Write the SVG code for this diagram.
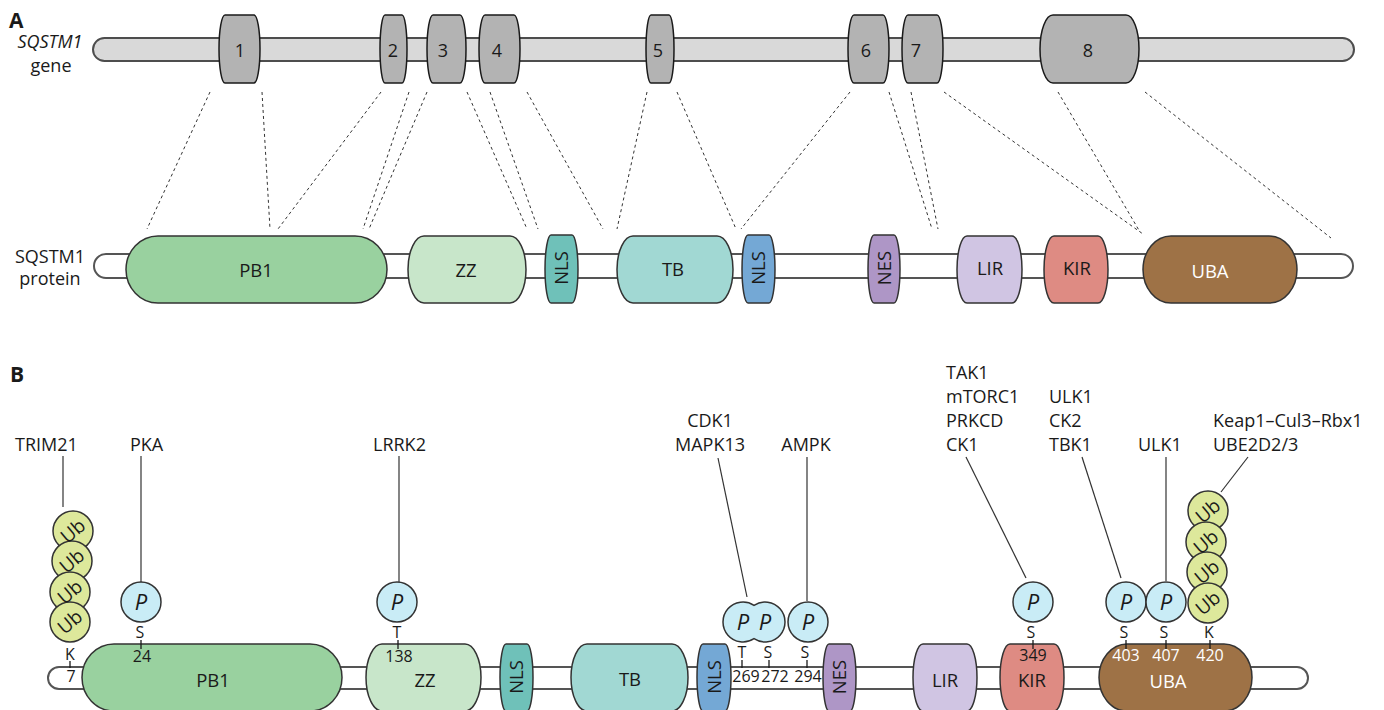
<svg xmlns="http://www.w3.org/2000/svg" width="1384" height="710" viewBox="0 0 1384 710">
  <style>
    text { font-family: "Open Sans", "Noto Sans", sans-serif; fill: #1a1a1a; }
    .lbl { font-size: 18px; }
    .num { font-size: 18px; text-anchor: middle; }
    .head { font-size: 21px; font-weight: bold; }
    .dl { font-size: 18.5px; text-anchor: middle; }
    .res { font-size: 16px; text-anchor: middle; }
    .wht { fill: #ffffff; }
    .pt { font-size: 22px; font-style: italic; text-anchor: middle; }
    .ubt { font-size: 19px; text-anchor: middle; }
    .gbar { fill: #d9d9d9; stroke: #4d4d4d; stroke-width: 2; }
    .pbar { fill: #ffffff; stroke: #555555; stroke-width: 2; }
    .exon { fill: #b3b3b3; stroke: #1a1a1a; stroke-width: 1.5; }
    .dom { stroke: #333333; stroke-width: 1.5; }
    .dash { stroke: #333333; stroke-width: 1; stroke-dasharray: 3 3; fill: none; }
    .lead { stroke: #333333; stroke-width: 1.2; fill: none; }
    .tick { stroke: #1a1a1a; stroke-width: 1.3; }
    .p { fill: #c9ecf6; stroke: #333333; stroke-width: 1.5; }
    .ub { fill: #dde89b; stroke: #333333; stroke-width: 1.5; }
    .pb1 { fill: #99d19f; } .zz { fill: #c8e6ca; } .nls1 { fill: #6fc1b9; }
    .tb { fill: #a1d8d3; } .nls2 { fill: #74a8d5; } .nes { fill: #ae96c6; }
    .lir { fill: #d0c5e3; } .kir { fill: #de8b83; } .uba { fill: #9e7246; }
  </style>

  <!-- ===== Panel A: gene ===== -->
  <text class="head" x="9" y="28">A</text>
  <text class="lbl" x="50" y="48" text-anchor="middle" font-style="italic">SQSTM1</text>
  <text class="lbl" x="51" y="72" text-anchor="middle">gene</text>

  <g id="gene">
    <rect class="gbar" x="93" y="38" width="1261" height="23" rx="11.5"/>
  </g>

  <g id="exon1"><path class="exon" d="M225,15 H254 C257.3,15 260,30.2 260,49 C260,67.8 257.3,83 254,83 H225 C221.7,83 219,67.8 219,49 C219,30.2 221.7,15 225,15Z"/><text class="num" x="240" y="57">1</text></g>
  <g id="exon2"><path class="exon" d="M385,15 H402 C404.8,15 407,30.2 407,49 C407,67.8 404.8,83 402,83 H385 C382.2,83 380,67.8 380,49 C380,30.2 382.2,15 385,15Z"/><text class="num" x="393" y="57">2</text></g>
  <g id="exon3"><path class="exon" d="M433,15 H460 C463.3,15 466,30.2 466,49 C466,67.8 463.3,83 460,83 H433 C429.7,83 427,67.8 427,49 C427,30.2 429.7,15 433,15Z"/><text class="num" x="443" y="57">3</text></g>
  <g id="exon4"><path class="exon" d="M485,15 H514 C517.3,15 520,30.2 520,49 C520,67.8 517.3,83 514,83 H485 C481.7,83 479,67.8 479,49 C479,30.2 481.7,15 485,15Z"/><text class="num" x="497" y="57">4</text></g>
  <g id="exon5"><path class="exon" d="M651,15 H669 C671.8,15 674,30.2 674,49 C674,67.8 671.8,83 669,83 H651 C648.2,83 646,67.8 646,49 C646,30.2 648.2,15 651,15Z"/><text class="num" x="658" y="57">5</text></g>
  <g id="exon6"><path class="exon" d="M854,15 H883 C886.3,15 889,30.2 889,49 C889,67.8 886.3,83 883,83 H854 C850.7,83 848,67.8 848,49 C848,30.2 850.7,15 854,15Z"/><text class="num" x="866" y="57">6</text></g>
  <g id="exon7"><path class="exon" d="M908,15 H937 C940.3,15 943,30.2 943,49 C943,67.8 940.3,83 937,83 H908 C904.7,83 902,67.8 902,49 C902,30.2 904.7,15 908,15Z"/><text class="num" x="916" y="57">7</text></g>
  <g id="exon8"><path class="exon" d="M1053,15 H1126 C1133.2,15 1139,30.2 1139,49 C1139,67.8 1133.2,83 1126,83 H1053 C1045.8,83 1040,67.8 1040,49 C1040,30.2 1045.8,15 1053,15Z"/><text class="num" x="1088" y="57">8</text></g>

  <!-- exon-to-protein mapping -->
  <g id="connectors-a">
    <line class="dash" x1="210" y1="92" x2="147" y2="229"/>
    <line class="dash" x1="262" y1="92" x2="270" y2="229"/>
    <line class="dash" x1="381" y1="92" x2="278" y2="229"/>
    <line class="dash" x1="409" y1="92" x2="363" y2="229"/>
    <line class="dash" x1="427" y1="92" x2="369" y2="229"/>
    <line class="dash" x1="467" y1="92" x2="527" y2="229"/>
    <line class="dash" x1="490" y1="92" x2="538" y2="229"/>
    <line class="dash" x1="527" y1="92" x2="603" y2="229"/>
    <line class="dash" x1="647" y1="92" x2="617" y2="229"/>
    <line class="dash" x1="677" y1="92" x2="736" y2="229"/>
    <line class="dash" x1="850" y1="92" x2="741" y2="229"/>
    <line class="dash" x1="889" y1="92" x2="932" y2="229"/>
    <line class="dash" x1="911" y1="92" x2="938" y2="229"/>
    <line class="dash" x1="944" y1="92" x2="1143" y2="234"/>
    <line class="dash" x1="1058" y1="92" x2="1140" y2="232"/>
    <line class="dash" x1="1145" y1="92" x2="1331" y2="238"/>
  </g>

  <!-- ===== Panel A: protein ===== -->
  <text class="lbl" x="50" y="263" text-anchor="middle">SQSTM1</text>
  <text class="lbl" x="50" y="285" text-anchor="middle">protein</text>

  <g id="protein-a">
    <rect class="pbar" x="94" y="254" width="1259" height="24" rx="12"/>
  </g>
  <g id="a-pb1"><path class="dom pb1" d="M158,236 H355 C372.7,236 387,251 387,269.5 C387,288 372.7,303 355,303 H158 C140.3,303 126,288 126,269.5 C126,251 140.3,236 158,236Z"/><text class="dl" x="256" y="277">PB1</text></g>
  <g id="a-zz"><path class="dom zz" d="M424,236 H510 C518.8,236 526,251 526,269.5 C526,288 518.8,303 510,303 H424 C415.2,303 408,288 408,269.5 C408,251 415.2,236 424,236Z"/><text class="dl" x="466" y="277">ZZ</text></g>
  <g id="a-nls1"><path class="dom nls1" d="M551,235 H572 C575.3,235 578,251 578,269 C578,288 575.3,303 572,303 H551 C547.7,303 545,288 545,269 C545,251 547.7,235 551,235Z"/><text class="dl" transform="translate(561.5,268) rotate(-90)" dy="6.5">NLS</text></g>
  <g id="a-tb"><path class="dom tb" d="M633,236 H717 C725.8,236 733,251 733,269.5 C733,288 725.8,303 717,303 H633 C624.2,303 617,288 617,269.5 C617,251 624.2,236 633,236Z"/><text class="dl" x="673" y="276">TB</text></g>
  <g id="a-nls2"><path class="dom nls2" d="M748,235 H769 C772.3,235 775,251 775,269 C775,288 772.3,303 769,303 H748 C744.7,303 742,288 742,269 C742,251 744.7,235 748,235Z"/><text class="dl" transform="translate(758.5,268) rotate(-90)" dy="6.5">NLS</text></g>
  <g id="a-nes"><path class="dom nes" d="M874,235 H894 C897.3,235 900,251 900,269 C900,288 897.3,303 894,303 H874 C870.7,303 868,288 868,269 C868,251 870.7,235 874,235Z"/><text class="dl" transform="translate(884,268) rotate(-90)" dy="6.5">NES</text></g>
  <g id="a-lir"><path class="dom lir" d="M967,236 H1012 C1017.5,236 1022,251 1022,269.5 C1022,288 1017.5,303 1012,303 H967 C961.5,303 957,288 957,269.5 C957,251 961.5,236 967,236Z"/><text class="dl" x="990" y="275">LIR</text></g>
  <g id="a-kir"><path class="dom kir" d="M1054,236 H1098 C1103.5,236 1108,251 1108,269.5 C1108,288 1103.5,303 1098,303 H1054 C1048.5,303 1044,288 1044,269.5 C1044,251 1048.5,236 1054,236Z"/><text class="dl" x="1077" y="275">KIR</text></g>
  <g id="a-uba"><path class="dom uba" d="M1171,236 H1269 C1284.5,236 1297,251 1297,269.5 C1297,288 1284.5,303 1269,303 H1171 C1155.5,303 1143,288 1143,269.5 C1143,251 1155.5,236 1171,236Z"/><text class="dl wht" x="1210" y="278">UBA</text></g>

  <!-- ===== Panel B ===== -->
  <text class="head" x="10" y="382">B</text>

  <g id="protein-b">
    <rect class="pbar" x="48" y="667" width="1260" height="22" rx="11"/>
  </g>
  <g id="b-pb1"><path class="dom pb1" d="M114,644 H310 C327.7,644 342,659 342,677.5 C342,696 327.7,711 310,711 H114 C96.3,711 82,696 82,677.5 C82,659 96.3,644 114,644Z"/><text class="dl" x="213" y="687">PB1</text></g>
  <g id="b-zz"><path class="dom zz" d="M382,644 H465 C473.8,644 481,659 481,677.5 C481,696 473.8,711 465,711 H382 C373.2,711 366,696 366,677.5 C366,659 373.2,644 382,644Z"/><text class="dl" x="425" y="687">ZZ</text></g>
  <g id="b-nls1"><path class="dom nls1" d="M506,644 H527 C530.3,644 533,659 533,677.5 C533,696 530.3,711 527,711 H506 C502.7,711 500,696 500,677.5 C500,659 502.7,644 506,644Z"/><text class="dl" transform="translate(516.5,677) rotate(-90)" dy="6.5">NLS</text></g>
  <g id="b-tb"><path class="dom tb" d="M587,644 H672 C680.8,644 688,659 688,677.5 C688,696 680.8,711 672,711 H587 C578.2,711 571,696 571,677.5 C571,659 578.2,644 587,644Z"/><text class="dl" x="630" y="686">TB</text></g>
  <g id="b-nls2"><path class="dom nls2" d="M703,644 H725 C728.3,644 731,659 731,677.5 C731,696 728.3,711 725,711 H703 C699.7,711 697,696 697,677.5 C697,659 699.7,644 703,644Z"/><text class="dl" transform="translate(714,677) rotate(-90)" dy="6.5">NLS</text></g>
  <g id="b-nes"><path class="dom nes" d="M829,644 H850 C853.3,644 856,659 856,677.5 C856,696 853.3,711 850,711 H829 C825.7,711 823,696 823,677.5 C823,659 825.7,644 829,644Z"/><text class="dl" transform="translate(839.5,677) rotate(-90)" dy="6.5">NES</text></g>
  <g id="b-lir"><path class="dom lir" d="M923,644 H967 C972.5,644 977,659 977,677.5 C977,696 972.5,711 967,711 H923 C917.5,711 913,696 913,677.5 C913,659 917.5,644 923,644Z"/><text class="dl" x="945" y="687">LIR</text></g>
  <g id="b-kir"><path class="dom kir" d="M1010,644 H1054 C1059.5,644 1064,659 1064,677.5 C1064,696 1059.5,711 1054,711 H1010 C1004.5,711 1000,696 1000,677.5 C1000,659 1004.5,644 1010,644Z"/><text class="dl" x="1032" y="687">KIR</text></g>
  <g id="b-uba"><path class="dom uba" d="M1127,644 H1224 C1239.5,644 1252,659 1252,677.5 C1252,696 1239.5,711 1224,711 H1127 C1111.5,711 1099,696 1099,677.5 C1099,659 1111.5,644 1127,644Z"/><text class="dl wht" x="1168" y="688">UBA</text></g>

  <!-- modified residues -->
  <g id="site-k7">
    <text class="res" x="70" y="660">K</text>
    <line class="tick" x1="70" y1="661" x2="70" y2="668"/>
    <text class="res" x="71" y="682">7</text>
  </g>
  <g id="site-s24">
    <text class="res" x="140" y="638">S</text>
    <line class="tick" x1="141" y1="640" x2="141" y2="649"/>
    <text class="res" x="142" y="662">24</text>
  </g>
  <g id="site-t138">
    <text class="res" x="397" y="638">T</text>
    <line class="tick" x1="398" y1="640" x2="398" y2="649"/>
    <text class="res" x="399" y="662">138</text>
  </g>
  <g id="site-t269">
    <text class="res" x="742" y="658">T</text>
    <line class="tick" x1="742" y1="660" x2="742" y2="668"/>
    <text class="res" x="746" y="682">269</text>
  </g>
  <g id="site-s272">
    <text class="res" x="768" y="658">S</text>
    <line class="tick" x1="769" y1="660" x2="769" y2="668"/>
    <text class="res" x="775" y="682">272</text>
  </g>
  <g id="site-s294">
    <text class="res" x="805" y="658">S</text>
    <line class="tick" x1="807" y1="660" x2="807" y2="668"/>
    <text class="res" x="808" y="682">294</text>
  </g>
  <g id="site-s349">
    <text class="res" x="1031" y="638">S</text>
    <line class="tick" x1="1033" y1="640" x2="1033" y2="649"/>
    <text class="res" x="1033" y="661">349</text>
  </g>
  <g id="site-s403">
    <text class="res" x="1124" y="638">S</text>
    <line class="tick" x1="1126" y1="640" x2="1126" y2="649"/>
    <text class="res wht" x="1126" y="661">403</text>
  </g>
  <g id="site-s407">
    <text class="res" x="1164" y="638">S</text>
    <line class="tick" x1="1166" y1="640" x2="1166" y2="649"/>
    <text class="res wht" x="1166" y="661">407</text>
  </g>
  <g id="site-k420">
    <text class="res" x="1209" y="638">K</text>
    <line class="tick" x1="1210" y1="640" x2="1210" y2="649"/>
    <text class="res wht" x="1210" y="661">420</text>
  </g>

  <!-- phosphate groups -->
  <g id="p-s24"><circle class="p" cx="141" cy="602" r="20"/><text class="pt" x="141" y="610">P</text></g>
  <g id="p-t138"><circle class="p" cx="397" cy="602" r="20"/><text class="pt" x="397" y="610">P</text></g>
  <g id="p-t269-s272">
    <path class="p" d="M754,605.3 A20,20 0 1 0 754,638.7 A20,20 0 1 0 754,605.3Z"/>
    <text class="pt" x="743" y="630">P</text>
    <text class="pt" x="765" y="630">P</text>
  </g>
  <g id="p-s294"><circle class="p" cx="808" cy="622" r="20"/><text class="pt" x="808" y="630">P</text></g>
  <g id="p-s349"><circle class="p" cx="1033" cy="602" r="20"/><text class="pt" x="1033" y="610">P</text></g>
  <g id="p-s403"><circle class="p" cx="1126" cy="602" r="20"/><text class="pt" x="1126" y="610">P</text></g>
  <g id="p-s407"><circle class="p" cx="1166" cy="602" r="20"/><text class="pt" x="1166" y="610">P</text></g>

  <!-- ubiquitin chains -->
  <g id="ub-k7">
    <circle class="ub" cx="73" cy="531" r="20"/>
    <circle class="ub" cx="72" cy="561" r="20"/>
    <circle class="ub" cx="70" cy="592" r="20"/>
    <circle class="ub" cx="70" cy="622" r="20"/>
    <text class="ubt" transform="translate(73,531) rotate(-40)" dy="6.5">Ub</text>
    <text class="ubt" transform="translate(72,561) rotate(-40)" dy="6.5">Ub</text>
    <text class="ubt" transform="translate(70,592) rotate(-40)" dy="6.5">Ub</text>
    <text class="ubt" transform="translate(70,622) rotate(-40)" dy="6.5">Ub</text>
  </g>
  <g id="ub-k420">
    <circle class="ub" cx="1208" cy="511" r="20"/>
    <circle class="ub" cx="1206" cy="542" r="20"/>
    <circle class="ub" cx="1207" cy="572" r="20"/>
    <circle class="ub" cx="1208" cy="603" r="20"/>
    <text class="ubt" transform="translate(1208,511) rotate(-40)" dy="6.5">Ub</text>
    <text class="ubt" transform="translate(1206,542) rotate(-40)" dy="6.5">Ub</text>
    <text class="ubt" transform="translate(1207,572) rotate(-40)" dy="6.5">Ub</text>
    <text class="ubt" transform="translate(1208,603) rotate(-40)" dy="6.5">Ub</text>
  </g>

  <!-- enzyme labels -->
  <g id="enz-trim21"><text class="lbl" x="15" y="451">TRIM21</text></g>
  <g id="enz-pka"><text class="lbl" x="130" y="451">PKA</text></g>
  <g id="enz-lrrk2"><text class="lbl" x="373" y="451">LRRK2</text></g>
  <g id="enz-cdk1"><text class="lbl" x="710" y="427" text-anchor="middle">CDK1</text><text class="lbl" x="710" y="451" text-anchor="middle">MAPK13</text></g>
  <g id="enz-ampk"><text class="lbl" x="806" y="451" text-anchor="middle">AMPK</text></g>
  <g id="enz-tak1">
    <text class="lbl" x="946" y="379">TAK1</text>
    <text class="lbl" x="946" y="403">mTORC1</text>
    <text class="lbl" x="946" y="427">PRKCD</text>
    <text class="lbl" x="946" y="451">CK1</text>
  </g>
  <g id="enz-ulk1-ck2">
    <text class="lbl" x="1049" y="403">ULK1</text>
    <text class="lbl" x="1049" y="427">CK2</text>
    <text class="lbl" x="1049" y="451">TBK1</text>
  </g>
  <g id="enz-ulk1"><text class="lbl" x="1138" y="451">ULK1</text></g>
  <g id="enz-keap1">
    <text class="lbl" x="1213" y="427">Keap1–Cul3–Rbx1</text>
    <text class="lbl" x="1213" y="451">UBE2D2/3</text>
  </g>

  <!-- enzyme-to-site leads -->
  <g id="connectors-b">
    <line class="lead" x1="63" y1="456" x2="63" y2="507"/>
    <line class="lead" x1="141" y1="456" x2="141" y2="582"/>
    <line class="lead" x1="399" y1="456" x2="399" y2="582"/>
    <line class="lead" x1="718" y1="458" x2="747" y2="597"/>
    <line class="lead" x1="807" y1="457" x2="807" y2="601"/>
    <line class="lead" x1="966" y1="457" x2="1026" y2="578"/>
    <line class="lead" x1="1082" y1="457" x2="1121" y2="578"/>
    <line class="lead" x1="1166" y1="457" x2="1166" y2="581"/>
    <line class="lead" x1="1248" y1="457" x2="1221" y2="492"/>
  </g>
</svg>
